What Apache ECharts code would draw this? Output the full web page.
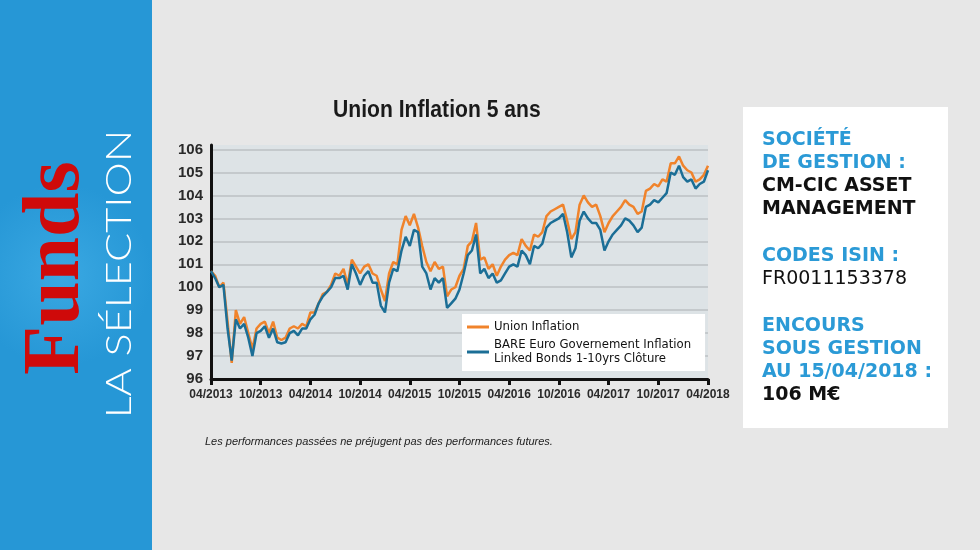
<!DOCTYPE html>
<html>
<head>
<meta charset="utf-8">
<script src="https://cdn.jsdelivr.net/npm/echarts@6/dist/echarts.min.js"></script>
<style>
html, body { margin: 0; padding: 0; background: #e7e7e7; }
#chart { width: 980px; height: 550px; }
</style>
</head>
<body>
<div id="chart"></div>
<script>
// two points a month, 04/2013 -> 04/2018
const unionInflation = [
    100.7, 100.5, 100.0, 100.2, 98.5, 96.7, 99.0, 98.4, 98.7, 98.0,
    97.3, 98.2, 98.4, 98.5, 98.0, 98.5, 97.8, 97.7, 97.8, 98.2,
    98.3, 98.2, 98.4, 98.3, 98.9, 98.9, 99.3, 99.7, 99.8, 100.1,
    100.6, 100.5, 100.8, 100.1, 101.2, 100.9, 100.6, 100.9, 101.0, 100.6,
    100.5, 99.9, 99.4, 100.6, 101.1, 101.0, 102.5, 103.1, 102.7, 103.2,
    102.6, 101.8, 101.1, 100.7, 101.1, 100.8, 100.9, 99.6, 99.9, 100.0,
    100.5, 100.8, 101.8, 102.0, 102.8, 101.2, 101.3, 100.8, 101.0, 100.5,
    100.9, 101.2, 101.4, 101.5, 101.4, 102.1, 101.8, 101.6, 102.3, 102.2,
    102.4, 103.1, 103.3, 103.4, 103.5, 103.6, 102.9, 102.1, 102.4, 103.6,
    104.0, 103.7, 103.5, 103.6, 103.1, 102.4, 102.8, 103.1, 103.3, 103.5,
    103.8, 103.6, 103.5, 103.2, 103.3, 104.2, 104.3, 104.5, 104.4, 104.7,
    104.6, 105.4, 105.4, 105.7, 105.3, 105.1, 105.0, 104.6, 104.7, 104.9,
    105.3
];
const benchmark = [
    100.7, 100.4, 100.0, 100.1, 98.2, 96.8, 98.6, 98.2, 98.4, 97.8,
    97.0, 98.0, 98.1, 98.3, 97.8, 98.2, 97.6, 97.55, 97.6, 98.0,
    98.1, 97.9, 98.2, 98.2, 98.6, 98.8, 99.3, 99.6, 99.8, 100.0,
    100.4, 100.4, 100.5, 99.9, 101.0, 100.6, 100.1, 100.5, 100.7, 100.2,
    100.2, 99.2, 98.9, 100.2, 100.8, 100.7, 101.6, 102.2, 101.8, 102.5,
    102.4, 100.9, 100.6, 99.9, 100.4, 100.2, 100.4, 99.1, 99.3, 99.5,
    99.9, 100.6, 101.4, 101.6, 102.3, 100.6, 100.8, 100.4, 100.6, 100.2,
    100.3, 100.6, 100.9, 101.0, 100.9, 101.6, 101.4, 101.0, 101.8, 101.7,
    101.9, 102.6, 102.8, 102.9, 103.0, 103.2, 102.4, 101.3, 101.7, 102.9,
    103.3, 103.0, 102.8, 102.8, 102.5, 101.6, 102.0, 102.3, 102.5, 102.7,
    103.0, 102.9, 102.7, 102.4, 102.6, 103.5, 103.6, 103.8, 103.7, 103.9,
    104.1, 105.0, 104.9, 105.3, 104.8, 104.6, 104.7, 104.3, 104.5, 104.6,
    105.1
];
const tickLabels = ['04/2013', '10/2013', '04/2014', '10/2014', '04/2015', '10/2015',
    '04/2016', '10/2016', '04/2017', '10/2017', '04/2018'];
const yTicks = [96, 97, 98, 99, 100, 101, 102, 103, 104, 105, 106];

const seriesNames = ['Union Inflation', 'BARE Euro Governement Inflation\nLinked Bonds 1-10yrs Clôture'];

const infoLines = [
    ['SOCIÉTÉ', 'h'], ['DE GESTION :', 'h'], ['CM-CIC ASSET', 'v'], ['MANAGEMENT', 'v'], null,
    ['CODES ISIN :', 'h'], ['FR0011153378', 'n'], null,
    ['ENCOURS', 'h'], ['SOUS GESTION', 'h'], ['AU 15/04/2018 :', 'h'], ['106 M€', 'v']
];

// category per half month
let days = [];
for (let m = 0; m <= 60; m++) {
    const yr = 2013 + Math.floor((m + 3) / 12);
    const mo = (m + 3) % 12 + 1;
    const mm = (mo < 10 ? '0' : '') + mo;
    days.push(mm + '/' + yr);
    if (m < 60) days.push(mm + '/' + yr + ' 15');
}

const narrow = '"Liberation Sans Narrow", "DejaVu Sans Condensed", sans-serif';
const blue = '#2b9ad6';

const chart = echarts.init(document.getElementById('chart'));

let graphics = [
    {
        type: 'rect',
        shape: { x: 0, y: 0, width: 152, height: 550 },
        style: {
            fill: new echarts.graphic.RadialGradient(0.4, 0.5, 0.6, [
                { offset: 0, color: '#3aa8e2' },
                { offset: 1, color: '#2697d6' }
            ])
        }
    },
    {
        type: 'text', x: 57, y: 268, rotation: Math.PI / 2,
        style: { text: 'Funds', font: 'bold 80px "Liberation Serif", serif', fill: '#cf0a0a', align: 'center', verticalAlign: 'middle' }
    },
    {
        type: 'text', x: 119, y: 274, rotation: Math.PI / 2, scaleX: 1.2,
        style: { text: 'LA SÉLECTION', font: '300 36px Lato, sans-serif', fill: '#ffffff', align: 'center', verticalAlign: 'middle' }
    },
    {
        type: 'rect',
        shape: { x: 743, y: 107, width: 205, height: 321 },
        style: { fill: '#ffffff' }
    },
    {
        type: 'text', x: 333, y: 110, scaleX: 0.88,
        style: { text: 'Union Inflation 5 ans', font: 'bold 24px "Liberation Sans", sans-serif', fill: '#1a1a1a', verticalAlign: 'middle' }
    },
    {
        type: 'text', x: 205, y: 442,
        style: {
            text: 'Les performances passées ne préjugent pas des performances futures.',
            font: 'italic 11px "Liberation Sans", sans-serif', fill: '#222', verticalAlign: 'middle'
        }
    }
];

let ly = 140;
infoLines.forEach(function (l) {
    if (l) {
        graphics.push({
            type: 'text', x: 762, y: ly,
            style: {
                text: l[0],
                font: (l[1] === 'n' ? 'normal' : 'bold') + ' 19px "DejaVu Sans", sans-serif',
                fill: l[1] === 'h' ? blue : '#111',
                verticalAlign: 'middle'
            }
        });
        ly += 23;
    } else {
        ly += 24;
    }
});

// 11 grid lines + hidden one at the top edge
let gridColors = yTicks.map(function () { return '#c4c9cc'; });
gridColors.push('rgba(0,0,0,0)');

let option = {
    backgroundColor: '#e7e7e7',
    animation: false,
    legend: {
        data: seriesNames,
        orient: 'vertical',
        left: 462,
        top: 314,
        backgroundColor: '#ffffff',
        padding: [6, 14, 5, 5],
        itemGap: 4,
        itemWidth: 22,
        itemHeight: 3,
        icon: 'rect',
        textStyle: { fontFamily: narrow, fontSize: 13, lineHeight: 14, color: '#111' }
    },
    grid: {
        left: 211,
        right: 272,
        top: 145,
        bottom: 171,
        show: true,
        backgroundColor: '#dde3e6',
        borderWidth: 0
    },
    xAxis: {
        type: 'category',
        data: days,
        boundaryGap: false,
        axisLine: { lineStyle: { color: '#111', width: 3 } },
        axisTick: {
            interval: function (i) { return i % 12 === 0; },
            length: 6,
            lineStyle: { color: '#111', width: 3 }
        },
        axisLabel: {
            interval: function (i) { return i % 12 === 0; },
            formatter: function (v, i) { return tickLabels[i / 12]; },
            showMinLabel: true,
            showMaxLabel: true,
            hideOverlap: false,
            fontFamily: '"Liberation Sans", sans-serif',
            fontWeight: 'bold',
            fontSize: 12,
            color: '#2a2a2a',
            margin: 10
        }
    },
    yAxis: {
        type: 'value',
        min: yTicks[0],
        max: 106.2,
        interval: 1,
        axisLine: { show: true, lineStyle: { color: '#111', width: 3 } },
        axisTick: { show: false },
        splitLine: { lineStyle: { color: gridColors, width: 2 } },
        axisLabel: {
            formatter: function (v) { return yTicks.indexOf(v) >= 0 ? v : ''; },
            fontFamily: '"Liberation Sans", sans-serif',
            fontWeight: 'bold',
            fontSize: 15,
            color: '#2a2a2a',
            margin: 8
        }
    },
    series: [
        {
            name: seriesNames[0],
            type: 'line',
            data: unionInflation,
            showSymbol: false,
            color: '#f0832b',
            lineStyle: { width: 2.5 }
        },
        {
            name: seriesNames[1],
            type: 'line',
            data: benchmark,
            showSymbol: false,
            color: '#1b6e96',
            lineStyle: { width: 2.5 }
        }
    ],
    graphic: graphics
};

if (option && typeof option === 'object') {
    chart.setOption(option);
}
</script>
</body>
</html>
